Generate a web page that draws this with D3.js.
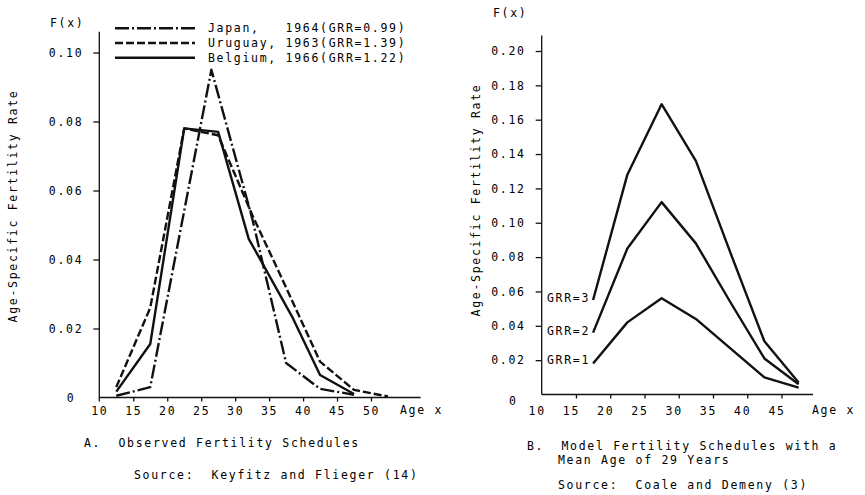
<!DOCTYPE html>
<html lang="en">
<head>
<meta charset="UTF-8">
<script src="https://d3js.org/d3.v7.min.js"></script>
<style>
  body { margin: 0; background: #fff; }
  svg text {
    font-family: "DejaVu Sans Mono", monospace;
    font-size: 11.5px;
    letter-spacing: 1.7px;
    fill: #000;
    white-space: pre;
  }
  .curve { fill: none; stroke: #111; stroke-width: 2.4; stroke-linejoin: round; }
  .axis path { display: none; }
  .axis line, .axline { stroke: #111; stroke-width: 1.3; }
</style>
</head>
<body>
<div id="chart"></div>
<script>
// Panel A - observed schedules (age, rate)
const japanAge = [12.5, 17.5, 26.5, 32.5, 37.5, 42.5, 47.5];
const japanRate = [0.0005, 0.003, 0.095, 0.052, 0.010, 0.0025, 0.0008];
const uruguayAge = [12.5, 17.5, 22.5, 27.5, 32.5, 37, 42.5, 47.5, 52.5];
const uruguayRate = [0.003, 0.026, 0.078, 0.076, 0.053, 0.034, 0.0104, 0.0022, 0.0003];
const belgiumAge = [12.5, 17.5, 22.5, 27.5, 32, 38.5, 42.5, 47.5];
const belgiumRate = [0.0017, 0.0155, 0.078, 0.077, 0.046, 0.023, 0.0065, 0.001];
const legendA = ["Japan,   1964(GRR=0.99)", "Uruguay, 1963(GRR=1.39)", "Belgium, 1966(GRR=1.22)"];
const dashA = ["14,3,2,3", "8,3", null];
const yTicksA = [0, 0.02, 0.04, 0.06, 0.08, 0.10];
const xTicksA = [10, 15, 20, 25, 30, 35, 40, 45, 50];

// Panel B - model schedules
const ageB = [17.5, 22.5, 27.5, 32.5, 37.5, 42.5, 47.5];
const grr1 = [0.018, 0.042, 0.056, 0.044, 0.027, 0.010, 0.004];
const grr2 = [0.036, 0.085, 0.112, 0.088, 0.054, 0.021, 0.006];
const grr3 = [0.055, 0.128, 0.169, 0.136, 0.083, 0.031, 0.007];
const labelsB = ["GRR=1", "GRR=2", "GRR=3"];
const yTicksB = [0, 0.02, 0.04, 0.06, 0.08, 0.10, 0.12, 0.14, 0.16, 0.18, 0.20];
const xTicksB = [10, 15, 20, 25, 30, 35, 40, 45];

const W = 865, H = 495;
const svg = d3.select("#chart").append("svg").attr("width", W).attr("height", H);
svg.append("rect").attr("width", W).attr("height", H).attr("fill", "#fff");

const fmt = d => d === 0 ? "0" : d3.format(".2f")(d);

// ---------- Panel A ----------
const xA = d3.scaleLinear().domain([10, 50]).range([99.3, 371]);
const yA = d3.scaleLinear().domain([0, 0.10]).range([397.5, 52.5]);

const gA = svg.append("g");
gA.append("line").attr("class", "axline")
  .attr("x1", xA(10)).attr("x2", xA(57.3)).attr("y1", yA(0)).attr("y2", yA(0));
gA.append("line").attr("class", "axline")
  .attr("x1", xA(10)).attr("x2", xA(10)).attr("y1", yA(0) + 4).attr("y2", yA(0.106));

const yAxA = gA.append("g").attr("class", "axis")
  .attr("transform", `translate(${xA(10)},0)`)
  .call(d3.axisLeft(yA).tickValues(yTicksA).tickFormat(fmt).tickSize(6).tickPadding(10));
yAxA.selectAll(".tick").filter(d => d === 0).select("line").remove();
yAxA.selectAll(".tick").filter(d => d === 0).select("text").attr("x", -24);

const xAxA = gA.append("g").attr("class", "axis")
  .attr("transform", `translate(0,${yA(0)})`)
  .call(d3.axisBottom(xA).tickValues(xTicksA).tickSize(4).tickPadding(5));
xAxA.selectAll(".tick").filter(d => d === 10).select("line").remove();

gA.append("text").attr("x", 400).attr("y", yA(0) + 16).text("Age x");
gA.append("text").attr("x", 50).attr("y", 27).text("F(x)");
gA.append("text")
  .attr("transform", `translate(17,${206}) rotate(-90)`)
  .attr("text-anchor", "middle").text("Age-Specific Fertility Rate");

const lineA = d3.line().x(d => xA(d[0])).y(d => yA(d[1]));
const seriesA = [
  d3.zip(japanAge, japanRate),
  d3.zip(uruguayAge, uruguayRate),
  d3.zip(belgiumAge, belgiumRate)
];
seriesA.forEach((s, i) => {
  gA.append("path").attr("class", "curve").attr("d", lineA(s))
    .attr("stroke-dasharray", dashA[i]);
});

const legY = d3.scalePoint().domain(legendA).range([28.3, 57.7]);
legendA.forEach((t, i) => {
  gA.append("line").attr("class", "curve")
    .attr("x1", 115).attr("x2", 195).attr("y1", legY(t)).attr("y2", legY(t))
    .attr("stroke-dasharray", dashA[i]);
  gA.append("text").attr("x", 208).attr("y", legY(t) + 4).text(t);
});

gA.append("text").attr("x", 84).attr("y", 447).text("A.  Observed Fertility Schedules");
gA.append("text").attr("x", 134).attr("y", 479).text("Source:  Keyfitz and Flieger (14)");

// ---------- Panel B ----------
const xB = d3.scaleLinear().domain([10, 45]).range([541.7, 781.5]);
const yB = d3.scaleLinear().domain([0, 0.20]).range([394.5, 51]);

const gB = svg.append("g");
gB.append("line").attr("class", "axline")
  .attr("x1", xB(10)).attr("x2", xB(49.6)).attr("y1", yB(0)).attr("y2", yB(0));
gB.append("line").attr("class", "axline")
  .attr("x1", xB(10)).attr("x2", xB(10)).attr("y1", yB(0)).attr("y2", yB(0.209));

const yAxB = gB.append("g").attr("class", "axis")
  .attr("transform", `translate(${xB(10)},0)`)
  .call(d3.axisLeft(yB).tickValues(yTicksB).tickFormat(fmt).tickSize(6).tickPadding(10));
yAxB.selectAll(".tick").filter(d => d === 0).select("line").remove();
yAxB.selectAll(".tick").filter(d => d === 0).select("text").attr("x", -24).attr("dy", "0.9em");

const xAxB = gB.append("g").attr("class", "axis")
  .attr("transform", `translate(0,${yB(0)})`)
  .call(d3.axisBottom(xB).tickValues(xTicksB).tickSize(4).tickPadding(8));
xAxB.selectAll(".tick").filter(d => d === 10).select("line").remove();
xAxB.selectAll(".tick text").attr("x", -5);

gB.append("text").attr("x", 812).attr("y", yB(0) + 19).text("Age x");
gB.append("text").attr("x", 493).attr("y", 17).text("F(x)");
gB.append("text")
  .attr("transform", `translate(480,${200}) rotate(-90)`)
  .attr("text-anchor", "middle").text("Age-Specific Fertility Rate");

const lineB = d3.line().x(d => xB(d[0])).y(d => yB(d[1]));
[grr1, grr2, grr3].forEach((vals, i) => {
  gB.append("path").attr("class", "curve").attr("d", lineB(d3.zip(ageB, vals)));
  gB.append("text").attr("x", 547).attr("y", yB(vals[0]) - 2 - (i === 0 ? 2 : 0))
    .attr("dy", "0.35em").text(labelsB[i]);
});

gB.append("text").attr("x", 527).attr("y", 450).text("B.  Model Fertility Schedules with a");
gB.append("text").attr("x", 558).attr("y", 464).text("Mean Age of 29 Years");
gB.append("text").attr("x", 558).attr("y", 489).text("Source:  Coale and Demeny (3)");
</script>
</body>
</html>
